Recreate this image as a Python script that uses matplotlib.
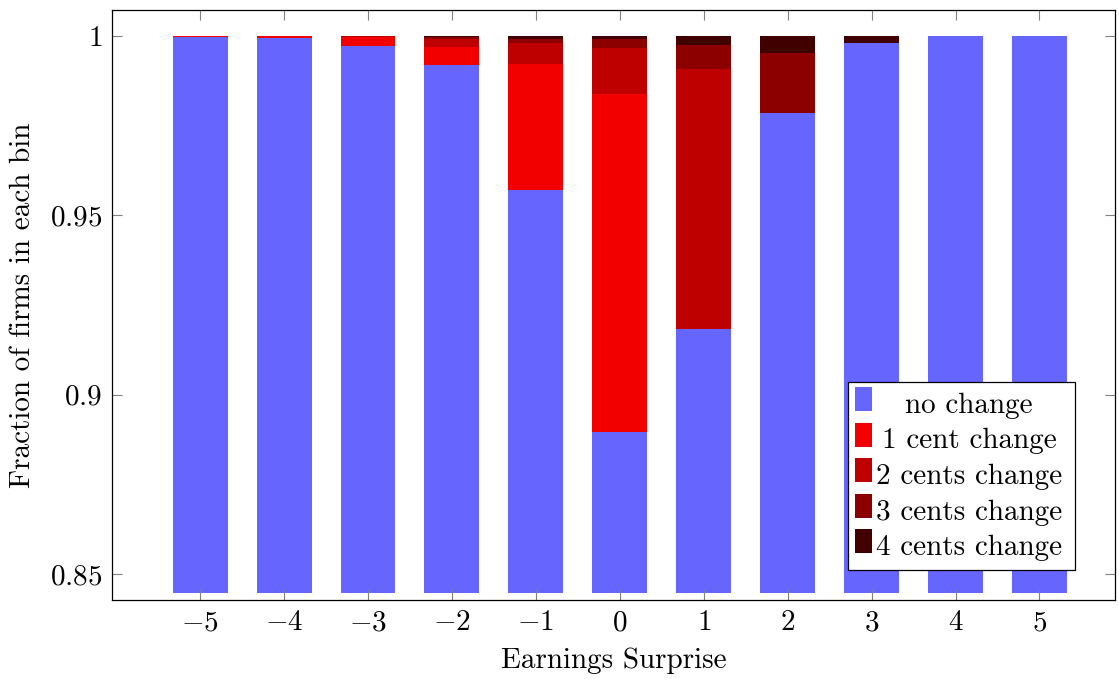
import matplotlib.pyplot as plt
from matplotlib.patches import Rectangle

plt.rcParams['mathtext.fontset'] = 'cm'
plt.rcParams['font.family'] = 'cmr10'
plt.rcParams['axes.formatter.use_mathtext'] = True

# fraction of firms per earnings-surprise bin, by size of the change
surprise = [-5, -4, -3, -2, -1, 0, 1, 2, 3, 4, 5]
no_change = [0.9998, 0.99936, 0.9973, 0.99191, 0.95706, 0.88966, 0.91829, 0.97853, 0.99805, 1.0, 1.0]
one_cent = [0.0002, 0.00064, 0.00234, 0.00502, 0.03514, 0.09417, 0.0, 0.0, 0.0, 0.0, 0.0]
two_cents = [0.0, 0.0, 0.00036, 0.00215, 0.00577, 0.01283, 0.07242, 0.0, 0.0, 0.0, 0.0]
three_cents = [0.0, 0.0, 0.0, 0.00064, 0.00128, 0.00259, 0.00678, 0.01682, 0.0, 0.0, 0.0]
four_cents = [0.0, 0.0, 0.0, 0.00028, 0.00075, 0.00075, 0.00251, 0.00466, 0.00195, 0.0, 0.0]

series = [no_change, one_cent, two_cents, three_cents, four_cents]
labels = ['no change', '1 cent change', '2 cents change', '3 cents change', '4 cents change']
colors = ['#6666ff', '#f20000', '#bf0000', '#8c0000', '#400000']

base = 0.8447
y_lo, y_hi = 0.8427, 1.0073
fs = 21

W, H = 1119, 679
ax_l, ax_r, ax_t, ax_b = 112, 1115, 10, 600   # axes box in pixels

fig = plt.figure(figsize=(W / 100, H / 100), dpi=100)
ax = fig.add_axes([ax_l / W, 1 - ax_b / H, (ax_r - ax_l) / W, (ax_b - ax_t) / H])

bottom = [base] * len(surprise)
for i, (vals, col) in enumerate(zip(series, colors)):
    heights = [v - base for v in vals] if i == 0 else vals
    ax.bar(surprise, heights, bottom=bottom, width=0.655, color=col, linewidth=0)
    bottom = [b + h for b, h in zip(bottom, heights)]

ax.set_xlim(-6.05, 5.9)
ax.set_ylim(y_lo, y_hi)
ax.set_xticks(surprise)
ax.set_xticklabels([r'$%d$' % s if s >= 0 else r'$-%d$' % -s for s in surprise])
ax.set_yticks([0.85, 0.9, 0.95, 1.0])
ax.set_yticklabels([r'$0.85$', r'$0.9$', r'$0.95$', r'$1$'])
ax.tick_params(direction='in', length=7, width=0.8, color='#808080',
               top=True, right=True, labelsize=fs, pad=7)
for sp in ax.spines.values():
    sp.set_linewidth(0.9)

ax.set_xlabel('Earnings Surprise', fontsize=fs, labelpad=8)
ax.set_ylabel('Fraction of firms in each bin', fontsize=fs, labelpad=10)


def ax_x(px):
    return (px - ax_l) / (ax_r - ax_l)


def ax_y(py):
    return (ax_b - py) / (ax_b - ax_t)


# legend box, entries centred like pgfplots
bx0, bx1, by0, by1 = 848, 1075, 382, 570
ax.add_patch(Rectangle((ax_x(bx0), ax_y(by1)), ax_x(bx1) - ax_x(bx0), ax_y(by0) - ax_y(by1),
                       transform=ax.transAxes, facecolor='white', edgecolor='black',
                       linewidth=0.9, zorder=5))
for k, (lab, col) in enumerate(zip(labels, colors)):
    yc = 399 + 35.5 * k
    ax.add_patch(Rectangle((ax_x(855), ax_y(yc + 12)), ax_x(872) - ax_x(855), ax_y(yc - 12) - ax_y(yc + 12),
                           transform=ax.transAxes, facecolor=col, edgecolor='none', zorder=6))
    ax.text(ax_x(969), ax_y(yc + 14), lab, transform=ax.transAxes, ha='center', va='baseline',
            fontsize=fs, zorder=7)

fig.savefig('out.png', dpi=100)
